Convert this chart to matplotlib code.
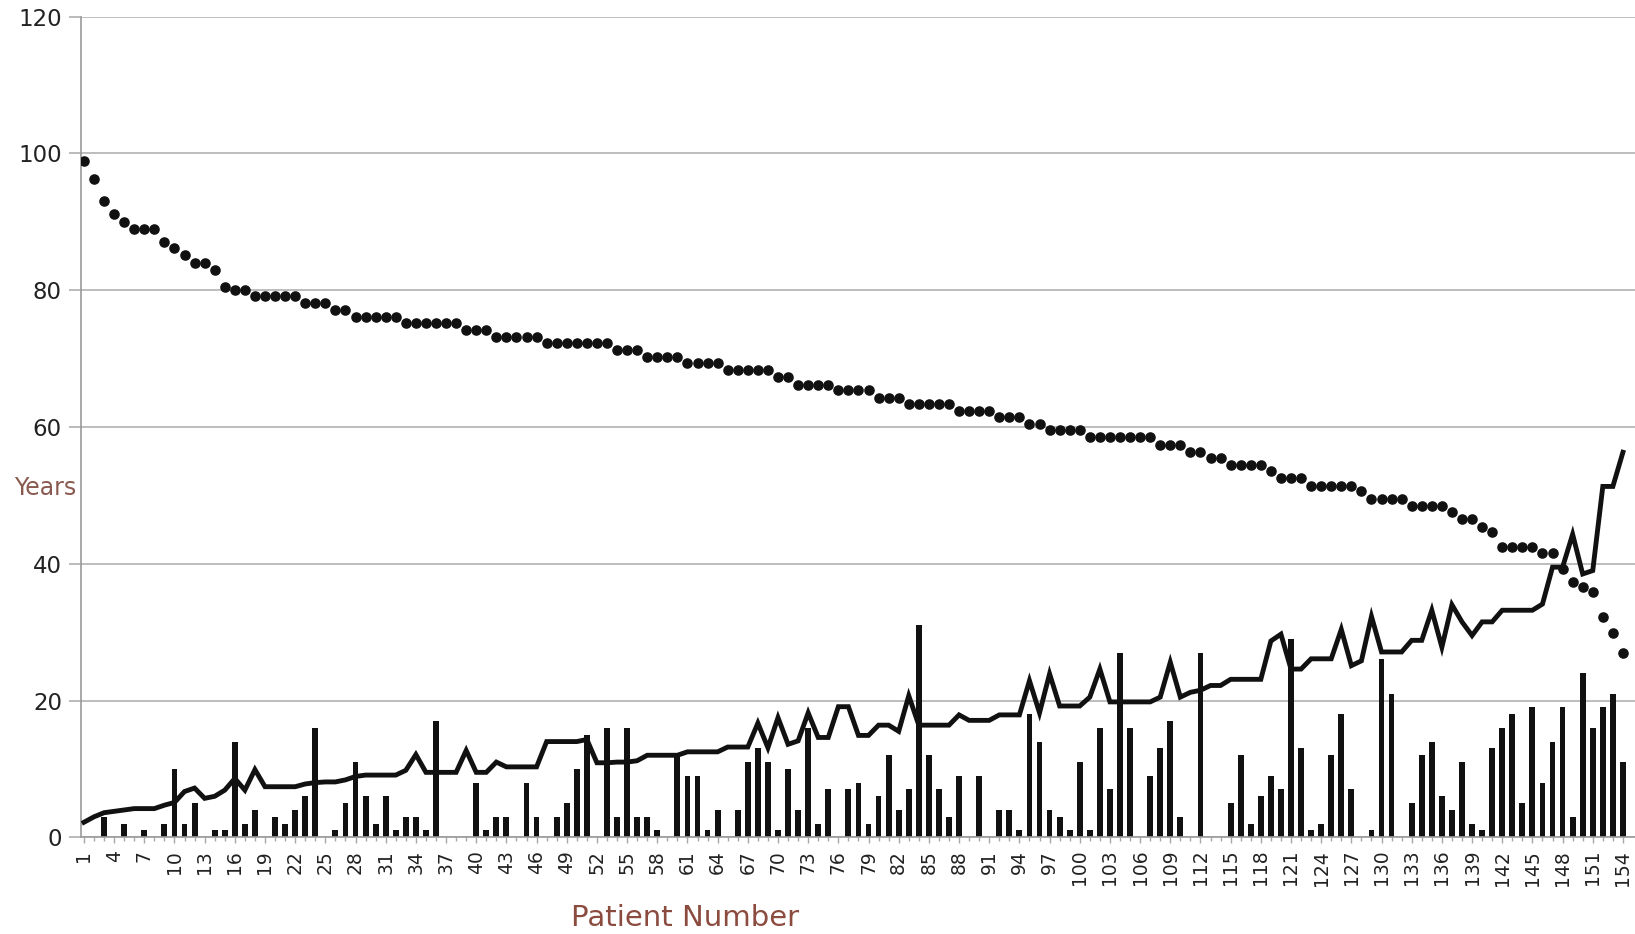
import numpy as np
import matplotlib
matplotlib.use("Agg")
import matplotlib.pyplot as plt
from matplotlib.ticker import FixedLocator

# ---------------- data ----------------
patients = np.arange(1, 155)

# dotted series (age, years)
age_years = [
    98.9, 96.3, 93.0, 91.2, 89.9, 89.0, 89.0, 89.0, 87.0, 86.1,
    85.1, 84.0, 84.0, 83.0, 80.4, 80.0, 80.0, 79.1, 79.1, 79.1,
    79.1, 79.1, 78.1, 78.1, 78.1, 77.1, 77.1, 76.1, 76.1, 76.1,
    76.1, 76.1, 75.2, 75.2, 75.2, 75.2, 75.2, 75.2, 74.1, 74.1,
    74.1, 73.1, 73.1, 73.1, 73.1, 73.1, 72.2, 72.2, 72.2, 72.2,
    72.2, 72.2, 72.2, 71.2, 71.2, 71.2, 70.2, 70.2, 70.2, 70.2,
    69.3, 69.3, 69.3, 69.3, 68.3, 68.3, 68.3, 68.3, 68.3, 67.3,
    67.3, 66.2, 66.2, 66.2, 66.2, 65.4, 65.4, 65.4, 65.4, 64.3,
    64.3, 64.3, 63.3, 63.3, 63.3, 63.3, 63.3, 62.4, 62.4, 62.4,
    62.4, 61.4, 61.4, 61.4, 60.4, 60.4, 59.5, 59.5, 59.5, 59.5,
    58.5, 58.5, 58.5, 58.5, 58.5, 58.5, 58.5, 57.4, 57.4, 57.4,
    56.4, 56.4, 55.5, 55.5, 54.5, 54.5, 54.5, 54.5, 53.5, 52.5,
    52.5, 52.5, 51.4, 51.4, 51.4, 51.4, 51.4, 50.6, 49.5, 49.5,
    49.5, 49.5, 48.4, 48.4, 48.4, 48.4, 47.5, 46.6, 46.6, 45.4,
    44.6, 42.5, 42.5, 42.5, 42.5, 41.5, 41.5, 39.2, 37.3, 36.6,
    35.8, 32.2, 29.8, 26.9,
]

# solid line series (years)
line_years = [
    2.2, 3.0, 3.6, 3.8, 4.0, 4.2, 4.2, 4.2, 4.7, 5.1,
    6.7, 7.2, 5.7, 6.0, 6.9, 8.6, 6.9, 9.9, 7.4, 7.4,
    7.4, 7.4, 7.8, 8.0, 8.1, 8.1, 8.4, 8.9, 9.1, 9.1,
    9.1, 9.1, 9.8, 12.1, 9.5, 9.5, 9.5, 9.5, 12.7, 9.5,
    9.5, 11.0, 10.3, 10.3, 10.3, 10.3, 14.0, 14.0, 14.0, 14.0,
    14.3, 10.9, 10.9, 11.0, 11.0, 11.2, 12.0, 12.0, 12.0, 12.0,
    12.5, 12.5, 12.5, 12.5, 13.2, 13.2, 13.2, 16.7, 13.1, 17.5,
    13.6, 14.1, 18.2, 14.6, 14.6, 19.1, 19.1, 14.9, 14.9, 16.4,
    16.4, 15.5, 20.7, 16.4, 16.4, 16.4, 16.4, 17.9, 17.1, 17.1,
    17.1, 17.9, 17.9, 17.9, 22.9, 18.2, 23.9, 19.2, 19.2, 19.2,
    20.5, 24.6, 19.8, 19.8, 19.8, 19.8, 19.8, 20.5, 25.6, 20.5,
    21.2, 21.5, 22.2, 22.2, 23.1, 23.1, 23.1, 23.1, 28.7, 29.7,
    24.6, 24.6, 26.1, 26.1, 26.1, 30.4, 25.1, 25.8, 32.3, 27.1,
    27.1, 27.1, 28.8, 28.8, 33.2, 27.8, 34.0, 31.5, 29.5, 31.5,
    31.5, 33.2, 33.2, 33.2, 33.2, 34.1, 39.5, 39.5, 44.3, 38.5,
    39.0, 51.3, 51.3, 56.3,
]

# bar series (years)
bar_years = [
    0, 0, 3, 0, 2, 0, 1, 0, 2, 10,
    2, 5, 0, 1, 1, 14, 2, 4, 0, 3,
    2, 4, 6, 16, 0, 1, 5, 11, 6, 2,
    6, 1, 3, 3, 1, 17, 0, 0, 0, 8,
    1, 3, 3, 0, 8, 3, 0, 3, 5, 10,
    15, 0, 16, 3, 16, 3, 3, 1, 0, 12,
    9, 9, 1, 4, 0, 4, 11, 13, 11, 1,
    10, 4, 16, 2, 7, 0, 7, 8, 2, 6,
    12, 4, 7, 31, 12, 7, 3, 9, 0, 9,
    0, 4, 4, 1, 18, 14, 4, 3, 1, 11,
    1, 16, 7, 27, 16, 0, 9, 13, 17, 3,
    0, 27, 0, 0, 5, 12, 2, 6, 9, 7,
    29, 13, 1, 2, 12, 18, 7, 0, 1, 26,
    21, 0, 5, 12, 14, 6, 4, 11, 2, 1,
    13, 16, 18, 5, 19, 8, 14, 19, 3, 24,
    16, 19, 21, 11,
]

y_ticks = [0, 20, 40, 60, 80, 100, 120]
x_label_patients = patients[::3]
y_title = "Years"
x_title = "Patient Number"

# ---------------- figure ----------------
plt.rcParams['font.family'] = ['DejaVu Sans']
fig = plt.figure(figsize=(16.35, 9.34), dpi=100)
fig.patch.set_facecolor('white')
ax = fig.add_axes([0.0498, 0.1035, 0.9502, 0.8788])

ax.set_xlim(0.75, 155.2)
ax.set_ylim(0, 120)

ax.bar(patients, bar_years, width=0.58, color='#111111', zorder=2)
ax.plot(patients, line_years, color='#111111', lw=3.5, zorder=3,
        solid_joinstyle='miter')
ax.plot(patients, age_years, ls='none', marker='o', ms=6.6,
        color='#111111', zorder=4)

ax.set_yticks(y_ticks)
ax.set_yticklabels([str(v) for v in y_ticks], fontsize=16.5, color='#222222')
ax.yaxis.grid(True, color='#b8b8b8', lw=1.3, zorder=0)
ax.set_axisbelow(True)

ax.xaxis.set_major_locator(FixedLocator(x_label_patients))
ax.set_xticklabels([str(p) for p in x_label_patients], rotation=90,
                   fontsize=13.5, color='#222222')
ax.xaxis.set_minor_locator(FixedLocator(patients))

ax.tick_params(axis='y', length=9, width=1.1, color='#a8a8a8', pad=5)
ax.tick_params(axis='x', which='major', length=4, width=1, color='#a8a8a8', pad=5)
ax.tick_params(axis='x', which='minor', length=3, width=1, color='#a8a8a8')

for s in ['top', 'right']:
    ax.spines[s].set_visible(False)
for s in ['left', 'bottom']:
    ax.spines[s].set_color('#9a9a9a')
    ax.spines[s].set_linewidth(1.2)

fig.text(45 / 1635, 1 - 488 / 934, y_title, fontsize=17, color='#8a5a50',
         ha='center', va='center')
fig.text(685 / 1635, 1 - 918 / 934, x_title, fontsize=21, color='#8b4b3f',
         ha='center', va='center')

fig.savefig('out.png', dpi=100, facecolor='white')
